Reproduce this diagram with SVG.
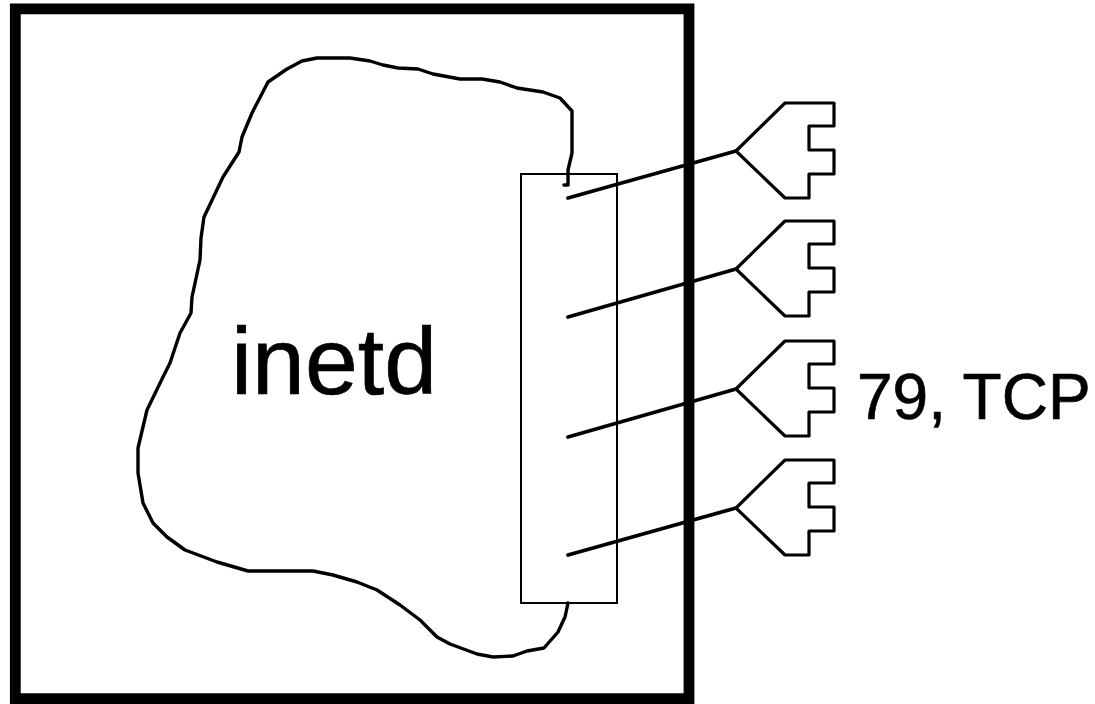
<svg xmlns="http://www.w3.org/2000/svg" width="1095" height="704" viewBox="0 0 1095 704">
<defs>
<style>
.l{fill:none;stroke:#000;stroke-linejoin:round;stroke-linecap:round}
.blob{stroke-width:3.4}
.wire{stroke-width:3.8}
.sock{stroke-width:3.2}
.t{font-family:"Liberation Sans",Arial,sans-serif;fill:#000;stroke:#000;stroke-width:.7}
</style>
<path id="plug" d="M0 0 L49 -48 L98 -48 L98 -25 L73 -25 L73 -1 L98 -1 L98 23 L73 23 L73 47 L49 47 Z" class="l sock"/>
</defs>
<rect width="1095" height="704" fill="#fff"/>
<g id="frame"><path d="M15.3 698.7 L15.3 8.8 L689 8.8 L689 698.7 Z" fill="none" stroke="#000" stroke-width="10.8"/></g>
<g id="inetd">
<path class="l blob" d="M564 185 L568 185 L568 170 L572 153 L572 111 L560 98 L543 92 L517 88 L500 82 L482 79 L460 79 L433 74 L418 69 L398 68 L383 65 L370 61 L350 58 L317 58 L302 61 L287 69 L268 82 L252 113 L242 137 L239 152 L223 177 L204 217 L201 238 L200 260 L192 297 L191 313 L180 333 L170 363 L163 377 L147 410 L138 448 L138 473 L143 503 L153 523 L167 537 L185 550 L217 562 L248 571 L313 571 L333 575 L357 582 L377 590 L400 605 L420 620 L437 637 L450 644 L477 654 L493 657 L513 656 L527 651 L544 648 L558 632 L565 617 L568 603"/>
<text class="t" x="231" y="394" font-size="95">inetd</text>
</g>
<g id="port-box"><rect x="521" y="174" width="96" height="429" fill="none" stroke="#000" stroke-width="2"/></g>
<g id="connectors">
<path class="l wire" d="M568 198 L736 151"/>
<path class="l wire" d="M568 317 L736 269"/>
<path class="l wire" d="M568 437 L736 389"/>
<path class="l wire" d="M568 555 L736 508"/>
</g>
<g id="socket-1"><use href="#plug" x="736" y="151"/></g>
<g id="socket-2"><use href="#plug" x="736" y="269"/></g>
<g id="socket-3"><use href="#plug" x="736" y="389"/></g>
<g id="socket-4"><use href="#plug" x="736" y="508"/></g>
<text id="port-label" class="t" x="857" y="419" font-size="64">79, TCP</text>
</svg>
